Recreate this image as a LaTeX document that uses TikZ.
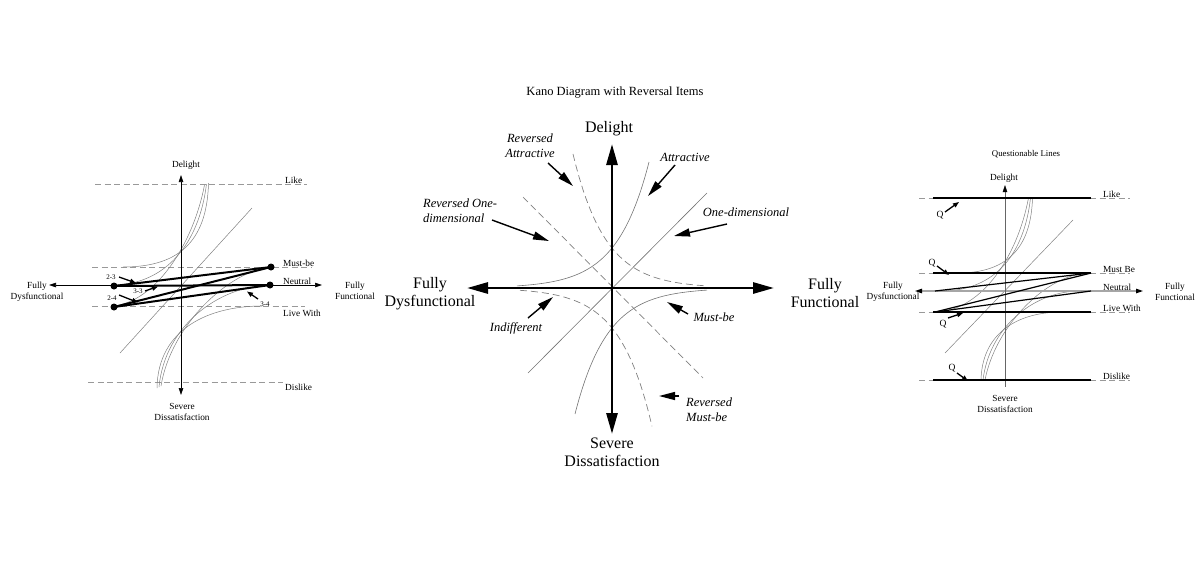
\documentclass[tikz,border=0pt]{standalone}
\usepackage{fontspec}
\setmainfont{Liberation Serif}
\usetikzlibrary{arrows.meta}
\begin{document}
\begin{tikzpicture}[x=1pt,y=-1pt,
  curve/.style={draw=black!55, line width=0.6pt},
  thinc/.style={draw=black!50, line width=0.5pt},
  dline/.style={draw=black!50, line width=0.7pt, dash pattern=on 7pt off 4pt},
  sdline/.style={draw=black!40, line width=0.7pt, dash pattern=on 6pt off 3.5pt},
  bigax/.style={line width=2.8pt, {Triangle[length=21pt,width=11pt]}-{Triangle[length=21pt,width=11pt]}},
  lblarrow/.style={line width=1.4pt, -{Triangle[length=16pt,width=8pt]}},
  smallax/.style={line width=0.6pt, {Triangle[length=7pt,width=4.5pt]}-{Triangle[length=7pt,width=4.5pt]}},
  smallarrow/.style={line width=1.3pt, -{Triangle[length=6pt,width=4.5pt]}},
  thickl/.style={line width=2pt},
  qline/.style={line width=2.6pt},
  t16/.style={font=\fontsize{16}{18}\selectfont, align=center, inner sep=0pt},
  ti/.style={font=\fontsize{12.5}{15}\selectfont\itshape, inner sep=0pt},
  tsm/.style={font=\fontsize{9.3}{11}\selectfont, inner sep=0pt, align=center},
  ttiny/.style={font=\fontsize{7}{8}\selectfont, inner sep=0pt},
  dot/.style={circle, fill=black, inner sep=0pt, minimum size=7pt}
]
\useasboundingbox (0,0) rectangle (1200,582);

% ================= CENTER DIAGRAM =================
\node[font=\fontsize{12.5}{14}\selectfont, inner sep=0pt] (title) at (615,93) {Kano Diagram with Reversal Items};

\coordinate (C) at (612,288);
\coordinate (hl) at (467,288);
\coordinate (hr) at (774,288);
\coordinate (vt) at (612,144);
\coordinate (vb) at (612,434);

% curves
\draw[curve] plot[domain=-95:37,samples=90] ({612+\x},{288-40*exp(0.031*\x)});
\draw[curve] plot[domain=-37:95,samples=90] ({612+\x},{288+40*exp(-0.031*\x)});
\draw[dline] plot[domain=-39:92,samples=90] ({612+\x},{288-40*exp(-0.031*\x)});
\draw[dline] plot[domain=-92:40,samples=90] ({612+\x},{288+40*exp(0.031*\x)});
\coordinate (od1) at (707,193);
\coordinate (od2) at (528,373);
\draw[curve] (od1) -- (od2);
\coordinate (rod1) at (523,197);
\coordinate (rod2) at (703,378);
\draw[dline] (rod1) -- (rod2);

\draw[bigax] (hl) -- (hr);
\draw[bigax] (vt) -- (vb);

\node[t16] (delight) at (609,129) {Delight};
\node[t16] (severe) at (612,452) {Severe\\Dissatisfaction};
\node[t16] (fdys) at (430,294) {Fully\\Dysfunctional};
\node[t16] (ffun) at (825,293) {Fully\\Functional};

\node[ti, align=center] (lra) at (530,146) {Reversed\\Attractive};
\node[ti] (la) at (685,157) {Attractive};
\node[ti, align=left, anchor=west] (lrod) at (423,210.5) {Reversed One-\\dimensional};
\node[ti] (lod) at (746,212) {One-dimensional};
\node[ti] (lind) at (516,328) {Indifferent};
\node[ti] (lmb) at (714,317) {Must-be};
\node[ti, align=left, anchor=west] (lrmb) at (686,409.5) {Reversed\\Must-be};

\coordinate (a1s) at (548,163); \coordinate (a1e) at (573,186);
\coordinate (a2s) at (675,165); \coordinate (a2e) at (648,196);
\coordinate (a3s) at (492,220); \coordinate (a3e) at (549,241);
\coordinate (a4s) at (727,224); \coordinate (a4e) at (674,236);
\coordinate (a5s) at (528,318); \coordinate (a5e) at (553,297);
\coordinate (a6s) at (688,314); \coordinate (a6e) at (667,302);
\coordinate (a7s) at (679,396); \coordinate (a7e) at (659,396);
\draw[lblarrow] (a1s) -- (a1e);
\draw[lblarrow] (a2s) -- (a2e);
\draw[lblarrow] (a3s) -- (a3e);
\draw[lblarrow] (a4s) -- (a4e);
\draw[lblarrow] (a5s) -- (a5e);
\draw[lblarrow] (a6s) -- (a6e);
\draw[lblarrow] (a7s) -- (a7e);

% ================= LEFT DIAGRAM =================
% dashed level lines
\coordinate (likeL) at (95,184); \coordinate (likeR) at (307,184);
\coordinate (mbL) at (92,267); \coordinate (mbR) at (312,267);
\coordinate (lwL) at (92,306); \coordinate (lwR) at (305,306);
\coordinate (dlL) at (88,382); \coordinate (dlR) at (283,382);
\draw[sdline] (likeL) -- (likeR);
\draw[sdline] (mbL) -- (mbR);
\draw[sdline] (lwL) -- (lwR);
\draw[sdline] (dlL) -- (dlR);

% curves
\draw[thinc] (123,267) .. controls (175,267) and (207,245) .. (208.5,183);
\draw[thinc] (116,285) .. controls (165,283) and (199,245) .. (206.5,184);
\draw[thinc] (113,306) .. controls (155,302) and (193,245) .. (204.5,185);
\draw[thinc] (262,306) .. controls (210,306) and (158,328) .. (157,388);
\draw[thinc] (268,285) .. controls (219,287) and (165,325) .. (159,387);
\draw[thinc] (271,267) .. controls (229,271) and (171,325) .. (161,386);
\coordinate (ld1) at (252,208); \coordinate (ld2) at (120,353);
\draw[thinc] (ld1) -- (ld2);

% axes
\coordinate (lax1) at (49,285); \coordinate (lax2) at (322,285);
\coordinate (lay1) at (181,175); \coordinate (lay2) at (181,395);
\draw[smallax] (lax1) -- (lax2);
\draw[smallax] (lay1) -- (lay2);

% thick lines with dots
\node[dot] (L1) at (114,286) {};
\node[dot] (L2) at (114,307) {};
\node[dot] (R1) at (271,267) {};
\node[dot] (R2) at (270,285) {};
\draw[thickl] (L1.center) -- (R1.center);
\draw[thickl] (L1.center) -- (R2.center);
\draw[thickl] (L2.center) -- (R1.center);
\draw[thickl] (L2.center) -- (R2.center);

% small labels
\node[ttiny] (n23) at (111,277) {2-3};
\node[ttiny] (n33) at (138,291.5) {3-3};
\node[ttiny] (n24) at (112,298) {2-4};
\node[ttiny] (n34) at (265,304) {3-4};
\coordinate (s1a) at (119,277); \coordinate (s1b) at (136,283);
\coordinate (s2a) at (145,291); \coordinate (s2b) at (158,286.5);
\coordinate (s3a) at (119,295); \coordinate (s3b) at (138,302.5);
\coordinate (s4a) at (258,299); \coordinate (s4b) at (247,291.5);
\draw[smallarrow] (s1a) -- (s1b);
\draw[smallarrow] (s2a) -- (s2b);
\draw[smallarrow] (s3a) -- (s3b);
\draw[smallarrow] (s4a) -- (s4b);

% texts
\node[tsm] (ldel) at (186,165) {Delight};
\node[tsm] (lsev) at (182,411.5) {Severe\\Dissatisfaction};
\node[tsm] (lfd) at (37,291.5) {Fully\\Dysfunctional};
\node[tsm] (lff) at (355,290.5) {Fully\\Functional};
\node[tsm, anchor=base west] (llike) at (285,183) {Like};
\node[tsm, anchor=base west] (lmbt) at (283,266.5) {Must-be};
\node[tsm, anchor=base west] (lneu) at (283,284.5) {Neutral};
\node[tsm, anchor=west] (llw) at (283,313) {Live With};
\node[tsm, anchor=west] (ldl) at (285,387.5) {Dislike};

% ================= RIGHT DIAGRAM =================
\node[font=\fontsize{8.8}{10}\selectfont, inner sep=0pt] (qtitle) at (1026,154) {Questionable Lines};

% dashed extensions
\coordinate (e1a) at (919,198); \coordinate (e1b) at (1130,198);
\coordinate (e2a) at (919,273); \coordinate (e2b) at (1130,273);
\coordinate (e3a) at (919,312); \coordinate (e3b) at (1130,312);
\coordinate (e4a) at (919,380); \coordinate (e4b) at (1130,380);
\draw[sdline] (e1a) -- (e1b);
\draw[sdline] (e2a) -- (e2b);
\draw[sdline] (e3a) -- (e3b);
\draw[sdline] (e4a) -- (e4b);

% curves
\draw[thinc] (958,273) .. controls (1005,273) and (1031,250) .. (1032.5,198);
\draw[thinc] (945,291) .. controls (995,289) and (1024,255) .. (1030.5,198);
\draw[thinc] (939,312) .. controls (982,308) and (1017,258) .. (1028.5,198);
\draw[thinc] (1062,312) .. controls (1015,312) and (982,335) .. (981,380);
\draw[thinc] (1077,291) .. controls (1030,293) and (989,330) .. (983,380);
\draw[thinc] (1086,273) .. controls (1043,277) and (995,328) .. (985,380);
\coordinate (rd1) at (1073,220); \coordinate (rd2) at (945,353);
\draw[thinc] (rd1) -- (rd2);

% axes
\coordinate (rax1) at (915,291); \coordinate (rax2) at (1143,291);
\coordinate (ray1) at (1005,185); \coordinate (ray2) at (1005,387);
\draw[draw=black!35, line width=1.1pt, {Triangle[length=7pt,width=4.5pt,color=black]}-{Triangle[length=7pt,width=4.5pt,color=black]}] (rax1) -- (rax2);
\draw[line width=0.5pt, draw=black!60, {Triangle[length=7pt,width=4.5pt,color=black]}-] (ray1) -- (ray2);

% thick level lines
\coordinate (q1a) at (933,198); \coordinate (q1b) at (1091,198);
\coordinate (q2a) at (933,273); \coordinate (q2b) at (1091,273);
\coordinate (q3a) at (933,312); \coordinate (q3b) at (1091,312);
\coordinate (q4a) at (933,380); \coordinate (q4b) at (1091,380);
\draw[qline] (q1a) -- (q1b);
\draw[qline] (q2a) -- (q2b);
\draw[qline] (q3a) -- (q3b);
\draw[qline] (q4a) -- (q4b);

% crossing lines
\coordinate (x1) at (935,291); \coordinate (x2) at (935,312);
\coordinate (y1) at (1091,273); \coordinate (y2) at (1091,291);
\draw[line width=1.2pt] (x1) -- (y1);
\draw[line width=1.2pt] (x2) -- (y1);
\draw[line width=1.2pt] (x2) -- (y2);

% Q labels
\node[font=\fontsize{9.5}{11}\selectfont, inner sep=0pt] (Q1) at (940,215) {Q};
\node[font=\fontsize{9.5}{11}\selectfont, inner sep=0pt] (Q2) at (932,263) {Q};
\node[font=\fontsize{9.5}{11}\selectfont, inner sep=0pt] (Q3) at (943,324) {Q};
\node[font=\fontsize{9.5}{11}\selectfont, inner sep=0pt] (Q4) at (952,368) {Q};
\coordinate (qa1) at (945,212); \coordinate (qb1) at (959,202);
\coordinate (qa2) at (937,266); \coordinate (qb2) at (949,275);
\coordinate (qa3) at (948,318); \coordinate (qb3) at (963,313);
\coordinate (qa4) at (957,373); \coordinate (qb4) at (968,381);
\draw[smallarrow] (qa1) -- (qb1);
\draw[smallarrow] (qa2) -- (qb2);
\draw[smallarrow] (qa3) -- (qb3);
\draw[smallarrow] (qa4) -- (qb4);

% texts
\node[tsm] (rdel) at (1004,178) {Delight};
\node[tsm] (rsev) at (1005,403.5) {Severe\\Dissatisfaction};
\node[tsm] (rfd) at (893,292) {Fully\\Dysfunctional};
\node[tsm] (rff) at (1175,292) {Fully\\Functional};
\node[tsm, anchor=base west] (rlike) at (1103,197) {Like};
\node[tsm, anchor=base west] (rmb) at (1103,272) {Must Be};
\node[tsm, anchor=base west] (rneu) at (1103,290) {Neutral};
\node[tsm, anchor=base west] (rlw) at (1103,311) {Live With};
\node[tsm, anchor=base west] (rdl) at (1103,379) {Dislike};
\end{tikzpicture}
\end{document}
